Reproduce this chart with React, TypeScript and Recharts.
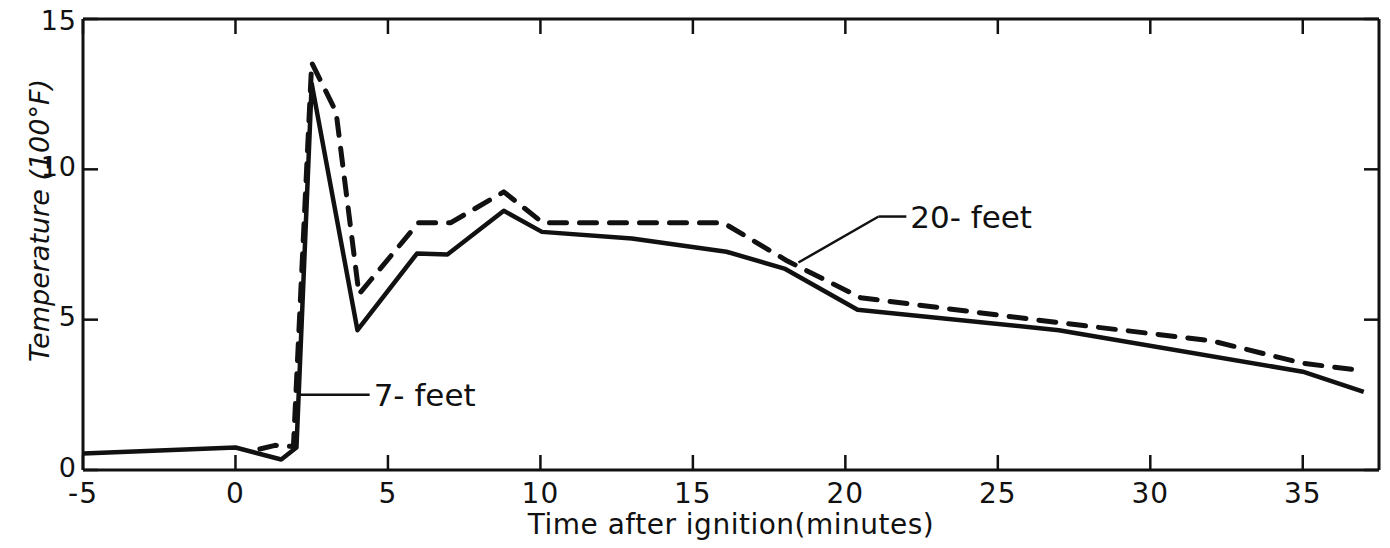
import { Line, LineChart, ReferenceLine, XAxis, YAxis } from "recharts";

// time after ignition (minutes) vs temperature (100 °F)
const sevenFeet = [
  { t: -5, v: 0.55 }, { t: 0, v: 0.75 }, { t: 1.5, v: 0.35 }, { t: 2.0, v: 0.75 },
  { t: 2.5, v: 12.85 }, { t: 4.0, v: 4.65 }, { t: 5.95, v: 7.2 }, { t: 6.95, v: 7.17 },
  { t: 8.8, v: 8.62 }, { t: 10.05, v: 7.92 }, { t: 13, v: 7.7 }, { t: 16.1, v: 7.26 },
  { t: 18, v: 6.7 }, { t: 20.4, v: 5.33 }, { t: 27, v: 4.65 }, { t: 35, v: 3.27 }, { t: 37, v: 2.6 },
];
const twentyFeet = [
  { t: 0.8, v: 0.7 }, { t: 1.3, v: 0.82 }, { t: 1.9, v: 0.78 }, { t: 2.5, v: 13.55 },
  { t: 3.3, v: 11.9 }, { t: 4.05, v: 5.85 }, { t: 6.0, v: 8.22 }, { t: 7.05, v: 8.22 },
  { t: 8.8, v: 9.25 }, { t: 10.08, v: 8.22 }, { t: 16.0, v: 8.22 }, { t: 18.1, v: 6.95 },
  { t: 20.5, v: 5.73 }, { t: 27, v: 4.9 }, { t: 32, v: 4.3 }, { t: 35, v: 3.55 }, { t: 37, v: 3.3 },
];
const xTicks = [-5, 0, 5, 10, 15, 20, 25, 30, 35];
const yTicks = [0, 5, 10, 15];

const FONT = "'DejaVu Sans', sans-serif";
const INK = "#111";

const BottomTick = ({ x, y, payload }: any) => (
  <g>
    <line x1={x} x2={x} y1={y} y2={y - 15} stroke={INK} strokeWidth={2.5} />
    <text x={x} y={y + 23} textAnchor="middle" dominantBaseline="central" fontFamily={FONT} fontSize={28} letterSpacing={1} fill={INK}>
      {payload.value}
    </text>
  </g>
);
const TopTick = ({ x, y }: any) => <line x1={x} x2={x} y1={y} y2={y + 15} stroke={INK} strokeWidth={2.5} />;
const LeftTick = ({ x, y, payload }: any) => (
  <g>
    <line x1={x} x2={x + 15} y1={y} y2={y} stroke={INK} strokeWidth={2.5} />
    <text x={x - 6} y={payload.value === 15 ? y + 1 : y - 3} textAnchor="end" dominantBaseline="central" fontFamily={FONT} fontSize={27} letterSpacing={1} fill={INK}>
      {payload.value}
    </text>
  </g>
);
const RightTick = ({ x, y }: any) => <line x1={x} x2={x - 15} y1={y} y2={y} stroke={INK} strokeWidth={2.5} />;

const labelStyle = { fontFamily: FONT, fontSize: 31, fill: INK };

const YTitle = ({ viewBox }: any) => {
  const cx = viewBox.x + 31;
  const cy = viewBox.y + viewBox.height / 2 - 24;
  return (
    <text x={cx} y={cy} transform={`rotate(-90 ${cx} ${cy})`} textAnchor="middle" dominantBaseline="central"
      fontFamily={FONT} fontSize={27} fontStyle="italic" fill={INK}>
      Temperature (100°F)
    </text>
  );
};

const XTitle = ({ viewBox }: any) => (
  <text x={viewBox.x + viewBox.width / 2} y={viewBox.y + 54} textAnchor="middle" dominantBaseline="central"
    fontFamily={FONT} fontSize={28} letterSpacing={0.5} fill={INK}>
    Time after ignition(minutes)
  </text>
);

export default function App() {
  return (
    <div style={{ marginTop: -8, marginLeft: -8 }}>
      <LineChart width={1390} height={548} margin={{ top: 18, right: 10, bottom: 0, left: 8 }}>
        <XAxis
          xAxisId="b" dataKey="t" type="number" domain={[-5, 37.5]} ticks={xTicks} allowDataOverflow
          height={78} tickSize={0} tickMargin={0} tickLine={false} tick={<BottomTick />}
          axisLine={{ stroke: INK, strokeWidth: 3 }}
          label={<XTitle />}
        />
        <XAxis
          xAxisId="t" orientation="top" dataKey="t" type="number" domain={[-5, 37.5]} ticks={xTicks} allowDataOverflow
          height={1} tickSize={0} tickMargin={0} tickLine={false} tick={<TopTick />}
          axisLine={{ stroke: INK, strokeWidth: 3 }}
        />
        <YAxis
          yAxisId="l" type="number" domain={[0, 15]} ticks={yTicks} width={75} allowDataOverflow
          tickSize={0} tickMargin={0} tickLine={false} tick={<LeftTick />}
          axisLine={{ stroke: INK, strokeWidth: 3 }}
          label={<YTitle />}
        />
        <YAxis
          yAxisId="r" orientation="right" type="number" domain={[0, 15]} ticks={yTicks} width={1} allowDataOverflow
          tickSize={0} tickMargin={0} tickLine={false} tick={<RightTick />}
          axisLine={{ stroke: INK, strokeWidth: 3 }}
        />
        <Line
          xAxisId="b" yAxisId="l" data={twentyFeet} dataKey="v" type="linear" stroke={INK} strokeWidth={5}
          strokeDasharray="17 13" strokeLinecap="round" strokeLinejoin="round" dot={false} isAnimationActive={false}
        />
        <Line
          xAxisId="t" yAxisId="r" data={sevenFeet} dataKey="v" type="linear" stroke={INK} strokeWidth={4.5}
          strokeLinejoin="round" dot={false} isAnimationActive={false}
        />
        <ReferenceLine
          xAxisId="b" yAxisId="l" segment={[{ x: 2.1, y: 2.5 }, { x: 4.4, y: 2.5 }]} stroke={INK} strokeWidth={2.5}
          label={{ value: "7- feet", position: "right", offset: 4, style: labelStyle }}
        />
        <ReferenceLine
          xAxisId="b" yAxisId="l" segment={[{ x: 18.46, y: 6.9 }, { x: 21.09, y: 8.43 }]} stroke={INK} strokeWidth={2.5}
        />
        <ReferenceLine
          xAxisId="b" yAxisId="l" segment={[{ x: 21.09, y: 8.43 }, { x: 22.0, y: 8.43 }]} stroke={INK} strokeWidth={2.5}
          label={{ value: "20- feet", position: "right", offset: 4, style: labelStyle }}
        />
      </LineChart>
    </div>
  );
}
